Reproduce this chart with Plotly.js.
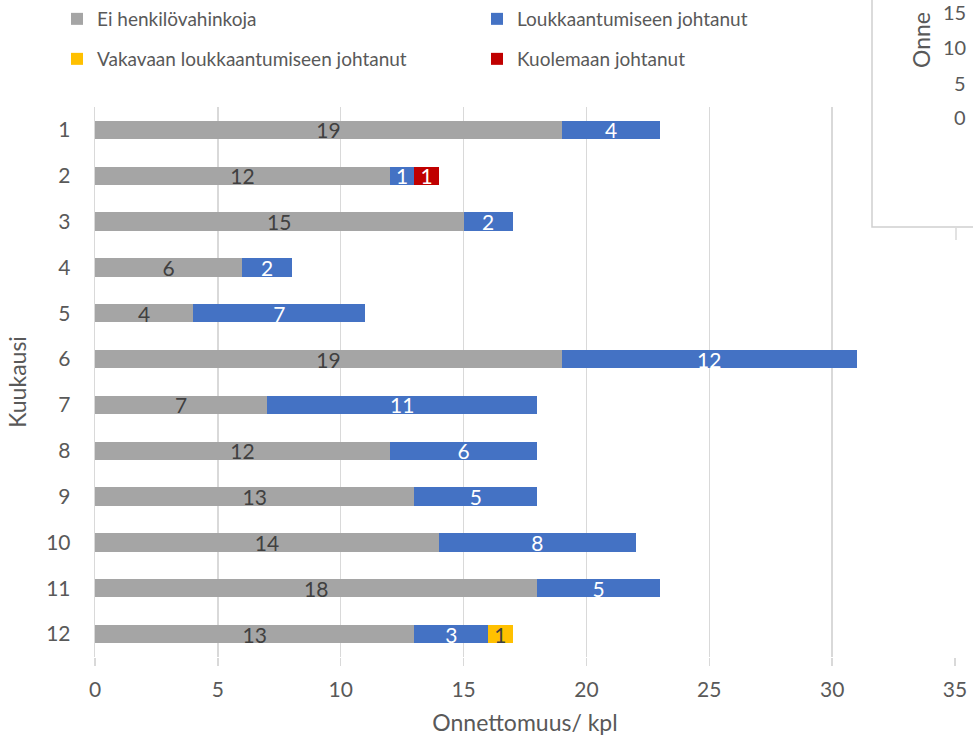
<!DOCTYPE html>
<html>
<head>
<meta charset="utf-8">
<script src="https://cdn.plot.ly/plotly-3.0.1.min.js"></script>
<style>html,body{margin:0;padding:0;background:#fff;}#chart{width:973px;height:742px;}</style>
</head>
<body>
<div id="chart"></div>
<script>
const months = ['1','2','3','4','5','6','7','8','9','10','11','12'];
const eiHenkilovahinkoja = [19,12,15,6,4,19,7,12,13,14,18,13];
const loukkaantumiseen = [4,1,2,2,7,12,11,6,5,8,5,3];
const vakavaan = [0,0,0,0,0,0,0,0,0,0,0,1];
const kuolemaan = [0,1,0,0,0,0,0,0,0,0,0,0];
const seriesNames = ['Ei henkilövahinkoja','Loukkaantumiseen johtanut','Vakavaan loukkaantumiseen johtanut','Kuolemaan johtanut'];
const xTicks = [0,5,10,15,20,25,30,35];
const insetTicks = ['15','10','5','0'];
const insetTitle = 'Onne';

const FONT = 'Lato, "Open Sans", sans-serif';
const TXT = '#595959';

function mk(vals, name, color, labelColor, legend) {
  return {
    type: 'bar', orientation: 'h', name: name, legend: legend,
    y: months,
    x: vals.map(v => v === 0 ? null : v),
    text: vals.map(v => v === 0 ? '' : String(v)),
    textposition: 'inside', insidetextanchor: 'middle',
    textangle: 0, constraintext: 'none',
    textfont: {family: FONT, size: 21, color: labelColor},
    marker: {color: color},
    hoverinfo: 'x+name'
  };
}

const data = [
  mk(eiHenkilovahinkoja, seriesNames[0], '#A5A5A5', '#404040', 'legend'),
  mk(loukkaantumiseen, seriesNames[1], '#4472C4', '#FFFFFF', 'legend2'),
  mk(vakavaan, seriesNames[2], '#FFC000', '#404040', 'legend3'),
  mk(kuolemaan, seriesNames[3], '#C00000', '#FFFFFF', 'legend4')
];

const W = 973, H = 742, L = 95, R = 18, T = 107, B = 85;
const PW = W - L - R, PH = H - T - B;
const px = v => (v - L) / PW;
const py = v => (H - B - v) / PH;

const insetY = [12, 47, 83, 117];
const annotations = insetTicks.map((t, i) => ({
  xref: 'paper', yref: 'paper', x: px(968), y: py(insetY[i]),
  xanchor: 'right', yanchor: 'middle', showarrow: false,
  text: t, font: {family: FONT, size: 20, color: TXT}
}));
annotations.push({
  xref: 'paper', yref: 'paper', x: px(921), y: py(70),
  xanchor: 'center', yanchor: 'bottom', showarrow: false, textangle: -90,
  text: insetTitle, font: {family: FONT, size: 23, color: TXT}
});

function leg(xpx, ypx) {
  return {
    orientation: 'h', xref: 'container', yref: 'container',
    x: xpx / W, y: 1 - ypx / H, xanchor: 'left', yanchor: 'top',
    itemwidth: 30,
    font: {family: FONT, size: 19, color: TXT}, bgcolor: 'rgba(0,0,0,0)'
  };
}

const layout = {
  width: W, height: H,
  margin: {l: L, r: R, t: T, b: B},
  paper_bgcolor: '#fff', plot_bgcolor: '#fff',
  barmode: 'stack', bargap: 0.6,
  font: {family: FONT, color: TXT, size: 20},
  xaxis: {
    range: [0, 35], tickvals: xTicks, ticktext: xTicks.map(String),
    showgrid: true, gridcolor: '#D9D9D9', gridwidth: 1.3,
    zeroline: false, showline: false,
    ticks: 'outside', ticklen: 8, tickcolor: '#D9D9D9', tickwidth: 1.3,
    ticklabelstandoff: 6,
    tickfont: {family: FONT, size: 21, color: TXT},
    title: {text: 'Onnettomuus/ kpl', font: {family: FONT, size: 23, color: TXT}, standoff: 14}
  },
  yaxis: {
    type: 'category', autorange: 'reversed',
    showline: true, linecolor: '#D9D9D9', linewidth: 1.3,
    showgrid: false, zeroline: false, ticks: '',
    ticklabelstandoff: 19,
    tickfont: {family: FONT, size: 21, color: TXT},
    title: {text: 'Kuukausi', font: {family: FONT, size: 23, color: TXT}, standoff: 13}
  },
  legend: leg(57, 0),
  legend2: leg(477, 0),
  legend3: leg(57, 40),
  legend4: leg(477, 40),
  shapes: [
    {type: 'rect', xref: 'paper', yref: 'paper', layer: 'above',
     x0: px(872), x1: px(990), y0: py(227), y1: py(-10),
     fillcolor: '#FFFFFF', line: {color: '#D0D0D0', width: 1.5}},
    {type: 'line', xref: 'paper', yref: 'paper', layer: 'above',
     x0: px(956), x1: px(956), y0: py(228), y1: py(240),
     line: {color: '#D9D9D9', width: 1.5}}
  ],
  annotations: annotations,
  showlegend: true
};

Plotly.newPlot('chart', data, layout, {displayModeBar: false, staticPlot: true});
</script>
</body>
</html>
